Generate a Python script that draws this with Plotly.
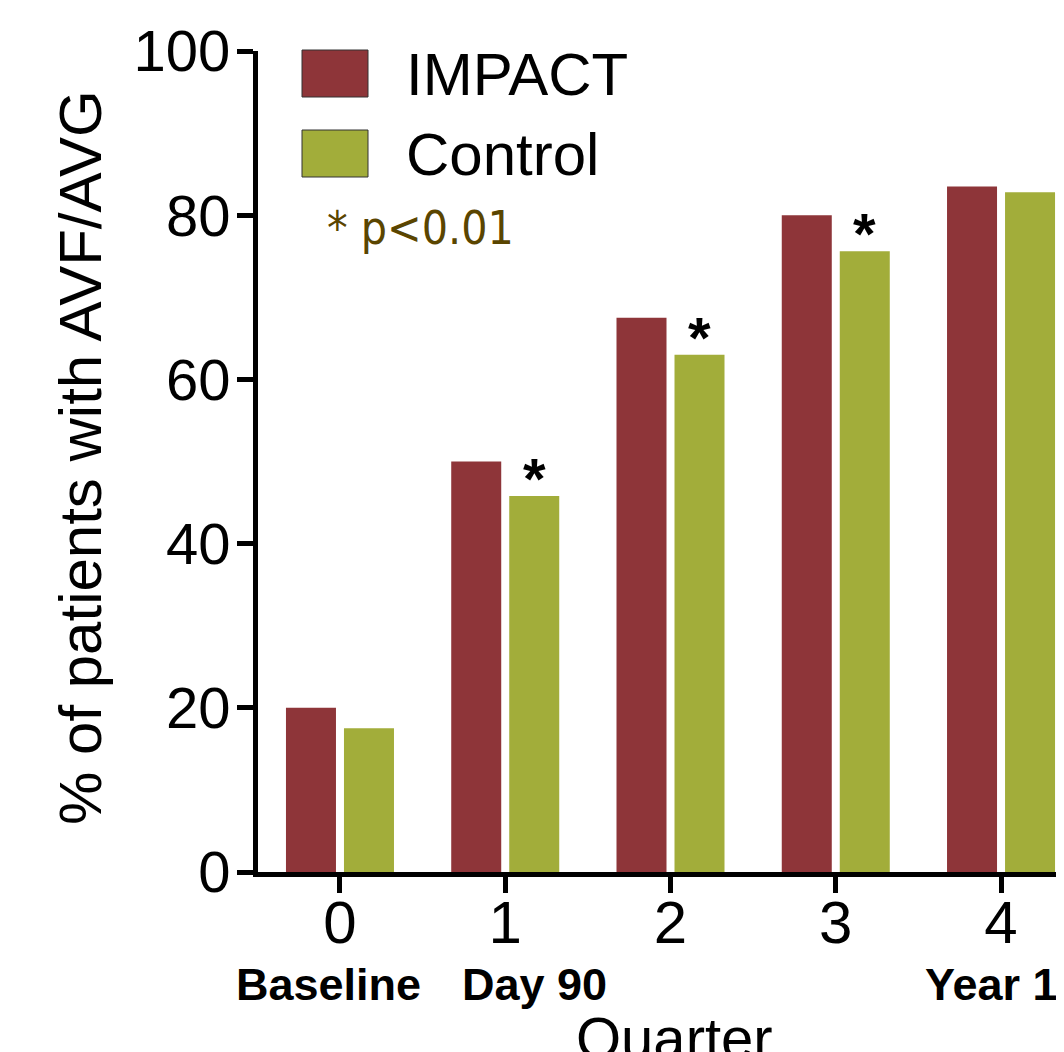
import plotly.graph_objects as go

quarters = [0, 1, 2, 3, 4]
tick_labels = ["0", "1", "2", "3", "4"]
impact = [20.0, 50.0, 67.5, 80.0, 83.5]
control = [17.5, 45.8, 63.0, 75.6, 82.8]
significant = [False, True, True, True, False]
milestones = ["Baseline", "Day 90", "Year 1"]

RED = "#8e3539"
GREEN = "#a2ad3a"
FONT = "Liberation Sans, Arial, Helvetica, sans-serif"

# page body has an 8px margin; figure is sized so it fills the 1064x1052 window
OFF = 8
W, H = 1064 - OFF, 1052 - OFF
ML, MR, MT, MB = 258 - OFF, 0, 51 - OFF, 1052 - 872
PW, PH = W - ML - MR, H - MT - MB


def px(xp):
    """page x pixel -> paper fraction"""
    return (xp - OFF - ML) / PW


def py(yp):
    """page y pixel -> paper fraction"""
    return (H - MB - (yp - OFF)) / PH


fig = go.Figure()
fig.add_trace(go.Bar(x=quarters, y=impact, name="IMPACT", marker_color=RED,
                     marker_line_width=0, showlegend=False))
fig.add_trace(go.Bar(x=quarters, y=control, name="Control", marker_color=GREEN,
                     marker_line_width=0, showlegend=False))

annotations = []
# significance asterisks above control bars
for q, v, s in zip(quarters, control, significant):
    if s:
        annotations.append(dict(x=q + 0.175, y=v, xref="x", yref="y", text="<b>*</b>",
                                showarrow=False, yanchor="bottom", xanchor="center",
                                yshift=-17, font=dict(family=FONT, size=58, color="black")))

# milestone labels under ticks
for lab, xp in zip(milestones, [328, 534, 991]):
    annotations.append(dict(x=px(xp), y=py(984), xref="paper", yref="paper", text="<b>" + lab + "</b>",
                            showarrow=False, xanchor="center", yanchor="middle",
                            font=dict(family=FONT, size=45, color="black")))

# axis titles
annotations.append(dict(x=px(674), y=py(1003), xref="paper", yref="paper", text="Quarter",
                        showarrow=False, xanchor="center", yanchor="top",
                        font=dict(family=FONT, size=58, color="black")))
annotations.append(dict(x=px(80), y=py(458), xref="paper", yref="paper",
                        text="% of patients with AVF/AVG", textangle=-90,
                        showarrow=False, xanchor="center", yanchor="middle",
                        font=dict(family=FONT, size=60, color="black")))

# legend
shapes = []
for name, col, yc in [("IMPACT", RED, 74), ("Control", GREEN, 154)]:
    shapes.append(dict(type="rect", xref="paper", yref="paper",
                       x0=px(302), x1=px(368), y0=py(yc - 24), y1=py(yc + 23),
                       fillcolor=col, line=dict(color="#333333", width=1)))
    annotations.append(dict(x=px(404), y=py(yc), xref="paper", yref="paper", text=name,
                            showarrow=False, xanchor="left", yanchor="middle",
                            font=dict(family=FONT, size=60, color="black")))
annotations.append(dict(x=px(325), y=py(228), xref="paper", yref="paper", text="* p<0.01",
                        showarrow=False, xanchor="left", yanchor="middle",
                        font=dict(family="DejaVu Sans Condensed, DejaVu Sans, sans-serif",
                                  size=46, color="#5a4500")))

fig.update_layout(
    width=W, height=H,
    margin=dict(l=ML, r=MR, t=MT, b=MB, pad=0),
    plot_bgcolor="white", paper_bgcolor="white",
    barmode="group", bargap=0.298, bargroupgap=0.138,
    annotations=annotations, shapes=shapes,
    font=dict(family=FONT, color="black"),
)
fig.update_xaxes(range=[-0.496, 4.381], tickmode="array", tickvals=quarters, ticktext=tick_labels,
                 showline=True, linewidth=5, linecolor="black", ticks="outside", ticklen=16,
                 tickwidth=5, tickcolor="black", tickfont=dict(size=60, family=FONT),
                 ticklabelstandoff=-22, automargin=False,
                 showgrid=False, zeroline=False)
fig.update_yaxes(range=[0, 100], tickvals=[0, 20, 40, 60, 80, 100],
                 showline=True, linewidth=5, linecolor="black", ticks="outside", ticklen=16,
                 tickwidth=5, tickcolor="black", tickfont=dict(size=58, family=FONT),
                 ticklabelstandoff=-5, automargin=False,
                 showgrid=False, zeroline=False)

fig.write_html("out.html")
